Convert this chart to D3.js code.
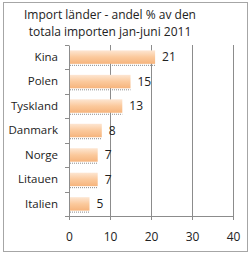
<!DOCTYPE html>
<html>
<head>
<meta charset="utf-8">
<title>Import länder</title>
<script src="https://d3js.org/d3.v7.min.js"></script>
<style>
  body { margin: 0; background: #fff; }
  text { font-family: "Open Sans", "Noto Sans", sans-serif; fill: #222; }
</style>
</head>
<body>
<div id="chart"></div>
<script>
// data
const countries = ["Kina", "Polen", "Tyskland", "Danmark", "Norge", "Litauen", "Italien"];
const shares = [21, 15, 13, 8, 7, 7, 5];
const xTicks = [0, 10, 20, 30, 40];
const titleLines = ["Import länder - andel % av den", "totala importen jan-juni 2011"];

const W = 250, H = 256;
const margin = {top: 45, right: 17, bottom: 40, left: 69};
const w = W - margin.left - margin.right;
const h = H - margin.top - margin.bottom;

const svg = d3.select("#chart").append("svg")
  .attr("width", W).attr("height", H);

// outer frame
svg.append("rect")
  .attr("x", 3.5).attr("y", 2.5)
  .attr("width", 244).attr("height", 249)
  .attr("fill", "#fff").attr("stroke", "#a6a6a6");

const defs = svg.append("defs");
const grad = defs.append("linearGradient").attr("id", "barGrad")
  .attr("x1", 0).attr("y1", 0).attr("x2", 0).attr("y2", 1);
grad.append("stop").attr("offset", "0%").attr("stop-color", "#fde6d2");
grad.append("stop").attr("offset", "50%").attr("stop-color", "#fbc99c");
grad.append("stop").attr("offset", "100%").attr("stop-color", "#f6b47c");

// title
svg.append("g").selectAll("text")
  .data(titleLines).enter().append("text")
  .attr("x", 110).attr("y", (d, i) => 19 + i * 17)
  .attr("text-anchor", "middle")
  .attr("font-size", "12px")
  .text(d => d);

const g = svg.append("g")
  .attr("transform", "translate(" + margin.left + "," + margin.top + ")");

const x = d3.scaleLinear().domain([0, 40]).range([0, w]);
const y = d3.scaleBand().domain(countries).range([0, h]).paddingInner(0.45).paddingOuter(0.22);
const band = d3.scaleBand().domain(countries).range([0, h]);

// gridlines
g.selectAll("line.grid")
  .data(xTicks.slice(1)).enter().append("line")
  .attr("class", "grid")
  .attr("x1", d => x(d) + 0.5).attr("x2", d => x(d) + 0.5)
  .attr("y1", 0).attr("y2", h)
  .attr("stroke", "#8c8c8c");

// bar shadows (dotted)
g.selectAll("line.shadow")
  .data(shares).enter().append("line")
  .attr("class", "shadow")
  .attr("x1", x(0) + 1).attr("x2", d => x(d))
  .attr("y1", (d, i) => y(countries[i]) + y.bandwidth() + 1.5)
  .attr("y2", (d, i) => y(countries[i]) + y.bandwidth() + 1.5)
  .attr("stroke", "#8a8a8a").attr("stroke-dasharray", "1,1");

// bars
g.selectAll("rect.bar")
  .data(shares).enter().append("rect")
  .attr("class", "bar")
  .attr("x", x(0))
  .attr("y", (d, i) => y(countries[i]))
  .attr("width", d => x(d) - x(0))
  .attr("height", y.bandwidth())
  .attr("fill", "url(#barGrad)");

// value labels
g.selectAll("text.val")
  .data(shares).enter().append("text")
  .attr("class", "val")
  .attr("x", d => x(d) + 7)
  .attr("y", (d, i) => y(countries[i]) + y.bandwidth() / 2)
  .attr("dy", "0.36em")
  .attr("font-size", "12px")
  .text(d => d);

// x axis
const xAxis = d3.axisBottom(x).tickValues(xTicks).tickSize(4).tickPadding(12);
const xg = g.append("g").attr("transform", "translate(0," + h + ")").call(xAxis);
xg.select(".domain").attr("stroke", "#8c8c8c");
xg.selectAll(".tick line").attr("stroke", "#8c8c8c");
xg.selectAll("text").attr("font-size", "12px").attr("font-family", "\"Open Sans\", sans-serif").attr("fill", "#222");

// y axis
const yg = g.append("g").call(d3.axisLeft(y).tickSize(0).tickPadding(11));
yg.select(".domain").attr("stroke", "#8c8c8c");
yg.selectAll("text").attr("font-size", "11.5px").attr("font-family", "\"Open Sans\", sans-serif").attr("fill", "#222");

// category boundary ticks
g.selectAll("line.ytick")
  .data(countries.concat(["end"])).enter().append("line")
  .attr("class", "ytick")
  .attr("x1", -4).attr("x2", 0)
  .attr("y1", (d, i) => Math.round(i * band.step()) + 0.5)
  .attr("y2", (d, i) => Math.round(i * band.step()) + 0.5)
  .attr("stroke", "#8c8c8c");
</script>
</body>
</html>
